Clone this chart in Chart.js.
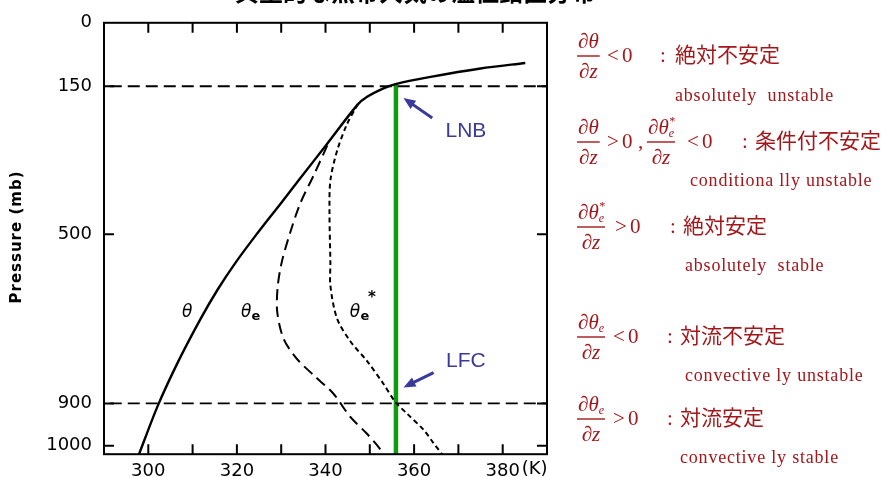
<!DOCTYPE html>
<html>
<head>
<meta charset="utf-8">
<script src="https://cdn.jsdelivr.net/npm/chart.js@4.4.1/dist/chart.umd.min.js"></script>
<style>
html, body { margin: 0; padding: 0; background: #fff; }
</style>
</head>
<body>
<canvas id="chart" width="888" height="477"></canvas>
<script>
// potential temperature profiles (K) against pressure (mb)
const thetaT = [297.9, 302.2, 306.8, 311.8, 315.7, 319.7, 324.3, 329.9, 333.9, 340.3, 347.2, 349.4, 353.1, 355.8, 363.7, 375.0, 385.1];
const thetaP = [1020, 904, 800, 700, 630, 567, 502, 427, 373, 287, 194, 175, 155, 145, 128, 108, 95];

const thetaeT = [340.4, 337.5, 334.3, 332.0, 330.1, 329.2, 329.1, 330.5, 333.4, 337.5, 341.8, 345.6, 349.2, 351.9, 353.1];
const thetaeP = [290, 357, 427, 497, 567, 625, 683, 746, 793, 835, 877, 932, 970, 1002, 1020];

const thetaesT = [347.3, 344.8, 342.6, 341.1, 340.9, 341.1, 341.1, 342.6, 345.6, 349.4, 353.1, 355.8, 358.4, 362.2, 364.4, 366.3];
const thetaesP = [192, 241, 303, 373, 450, 567, 621, 699, 753, 800, 854, 897, 924, 963, 994, 1020];

// lifted parcel between LFC and LNB
const parcelT = [355.9, 355.9];
const parcelP = [145, 1020];

// LNB and LFC levels
const levelP = [150, 900];
const levelT = [291.3, 390];

const yTicks = [0, 150, 500, 900, 1000];
const xLabels = [300, 320, 340, 360, 380];
const xMarks = [300, 310, 320, 330, 340, 350, 360, 370, 380];
const yMarks = [150, 500, 900, 1000];

const pts = (xs, ys) => xs.map((x, i) => ({ x: x, y: ys[i] }));

const RED = "#a3171b";
const BLUE = "#3a3a9c";
const MF = 'italic 21px "Liberation Serif"';
const MS = 'italic 12px "Liberation Serif"';
const MR = '21px "Liberation Serif"';
const CJK = '21px "Noto Sans CJK JP"';
const EN = '18px "Liberation Serif"';

const NUM_T = [{ t: "\u2202\u03b8", f: MF }];
const NUM_TE = [{ t: "\u2202\u03b8", f: MF }, { t: "e", f: MS, dy: 3 }];
const NUM_TES = [{ t: "\u2202\u03b8", f: MF }, { t: "*", f: MS, dy: -9, stay: true }, { t: "e", f: MS, dy: 3 }];
const DEN = [{ t: "\u2202z", f: MF }];

function partsWidth(ctx, parts) {
    let w = 0;
    parts.forEach(p => { ctx.font = p.f; if (!p.stay) w += ctx.measureText(p.t).width; });
    return w;
}

function drawParts(ctx, parts, x, y) {
    parts.forEach(p => {
        ctx.font = p.f;
        ctx.fillText(p.t, x, y + (p.dy || 0));
        if (!p.stay) x += ctx.measureText(p.t).width;
    });
}

function frac(ctx, x, bar, num, den) {
    const wn = partsWidth(ctx, num), wd = partsWidth(ctx, den);
    const w = Math.max(wn, wd) + 2;
    ctx.fillRect(x, bar - 0.7, w, 1.4);
    drawParts(ctx, num, x + (w - wn) / 2, bar - 8);
    drawParts(ctx, den, x + (w - wd) / 2, bar + 22);
    return w;
}

function rel(ctx, sym, x, bar) {
    ctx.font = MR;
    ctx.fillText(sym[0], x, bar + 6);
    ctx.fillText(sym.slice(1), x + 15, bar + 6);
}

function arrow(ctx, x1, y1, x2, y2) {
    const a = Math.atan2(y2 - y1, x2 - x1);
    ctx.beginPath();
    ctx.moveTo(x1, y1);
    ctx.lineTo(x2 - 8 * Math.cos(a), y2 - 8 * Math.sin(a));
    ctx.stroke();
    ctx.beginPath();
    ctx.moveTo(x2, y2);
    ctx.lineTo(x2 - 12 * Math.cos(a) + 5 * Math.sin(a), y2 - 12 * Math.sin(a) - 5 * Math.cos(a));
    ctx.lineTo(x2 - 12 * Math.cos(a) - 5 * Math.sin(a), y2 - 12 * Math.sin(a) + 5 * Math.cos(a));
    ctx.closePath();
    ctx.fill();
}

const decor = {
    id: "decor",
    afterDraw(chart) {
        const ctx = chart.ctx, a = chart.chartArea;
        const xs = chart.scales.x, ys = chart.scales.y;
        const X = v => xs.getPixelForValue(v), Y = v => ys.getPixelForValue(v);
        ctx.save();

        // frame and inward ticks
        ctx.strokeStyle = "#000";
        ctx.lineWidth = 2;
        ctx.strokeRect(a.left, a.top, a.right - a.left, a.bottom - a.top);
        ctx.beginPath();
        xMarks.forEach(v => {
            ctx.moveTo(X(v), a.bottom); ctx.lineTo(X(v), a.bottom - 10);
            ctx.moveTo(X(v), a.top); ctx.lineTo(X(v), a.top + 10);
        });
        yMarks.forEach(v => {
            ctx.moveTo(a.left, Y(v)); ctx.lineTo(a.left + 10, Y(v));
            ctx.moveTo(a.right, Y(v)); ctx.lineTo(a.right - 10, Y(v));
        });
        ctx.stroke();

        ctx.fillStyle = "#000";
        ctx.font = '18px "DejaVu Sans"';
        ctx.textBaseline = "middle";
        ctx.fillText("(K)", X(380) + 19, a.bottom + 15);

        // heading, cut at the top edge
        ctx.font = 'bold 24px "Noto Sans CJK JP"';
        ctx.textBaseline = "ideographic";
        ctx.fillText("典型的な熱帯大気の温位鉛直分布", 235, 4);

        // axis title
        ctx.save();
        ctx.translate(17, 237);
        ctx.rotate(-Math.PI / 2);
        ctx.font = 'bold 15px "DejaVu Sans"';
        ctx.letterSpacing = "1px";
        ctx.textAlign = "center";
        ctx.textBaseline = "middle";
        ctx.fillText("Pressure (mb)", 0, 0);
        ctx.restore();

        // curve names
        ctx.textBaseline = "alphabetic";
        ctx.font = 'oblique 17px "DejaVu Sans"';
        ctx.fillText("\u03b8", X(307.6), Y(695));
        ctx.fillText("\u03b8", X(320.9), Y(695));
        ctx.fillText("\u03b8", X(345.5), Y(695));
        ctx.font = 'bold 13px "DejaVu Sans"';
        ctx.fillText("e", X(323.3), Y(703));
        ctx.fillText("e", X(347.9), Y(703));
        ctx.font = 'bold 15px "DejaVu Sans"';
        ctx.fillText("*", X(349.6), Y(660));

        // LNB / LFC pointers
        ctx.strokeStyle = BLUE;
        ctx.fillStyle = BLUE;
        ctx.lineWidth = 3;
        arrow(ctx, X(364.1), Y(225), X(357.6), Y(178));
        arrow(ctx, X(364.4), Y(827), X(357.6), Y(862));
        ctx.font = '21px "Liberation Sans"';
        ctx.textAlign = "center";
        ctx.textBaseline = "middle";
        ctx.fillText("LNB", X(371.7), Y(256));
        ctx.fillText("LFC", X(371.7), Y(801));

        // stability criteria
        ctx.fillStyle = RED;
        ctx.textAlign = "left";
        ctx.textBaseline = "alphabetic";
        ctx.letterSpacing = "0px";

        frac(ctx, 577, 56, NUM_T, DEN);
        rel(ctx, "<0", 607, 56);
        ctx.font = MR; ctx.fillText(":", 660, 62);
        ctx.font = CJK; ctx.fillText("絶対不安定", 675, 62);

        frac(ctx, 577, 142, NUM_T, DEN);
        rel(ctx, ">0", 607, 142);
        ctx.font = MR; ctx.fillText(",", 638, 148);
        frac(ctx, 647, 142, NUM_TES, DEN);
        rel(ctx, "<0", 687, 142);
        ctx.font = MR; ctx.fillText(":", 742, 148);
        ctx.font = CJK; ctx.fillText("条件付不安定", 755, 148);

        frac(ctx, 577, 227, NUM_TES, DEN);
        rel(ctx, ">0", 615, 227);
        ctx.font = MR; ctx.fillText(":", 670, 233);
        ctx.font = CJK; ctx.fillText("絶対安定", 683, 233);

        frac(ctx, 577, 337, NUM_TE, DEN);
        rel(ctx, "<0", 613, 337);
        ctx.font = MR; ctx.fillText(":", 667, 343);
        ctx.font = CJK; ctx.fillText("対流不安定", 680, 343);

        frac(ctx, 577, 419, NUM_TE, DEN);
        rel(ctx, ">0", 613, 419);
        ctx.font = MR; ctx.fillText(":", 667, 425);
        ctx.font = CJK; ctx.fillText("対流安定", 680, 425);

        ctx.font = EN;
        ctx.letterSpacing = "0.8px";
        ctx.fillText("absolutely  unstable", 675, 101);
        ctx.fillText("conditiona lly unstable", 690, 186);
        ctx.fillText("absolutely  stable", 685, 271);
        ctx.fillText("convective ly unstable", 685, 381);
        ctx.fillText("convective ly stable", 680, 463);

        ctx.restore();
    }
};

const line = (data, width, dash, color, tension) => ({
    data: data, showLine: true, pointRadius: 0, borderColor: color || "#000",
    borderWidth: width, borderDash: dash, tension: tension, fill: false
});

new Chart(document.getElementById("chart"), {
    type: "scatter",
    data: {
        datasets: [
            line(pts(levelT, [levelP[0], levelP[0]]), 1.8, [12, 6], "#000", 0),
            line(pts(levelT, [levelP[1], levelP[1]]), 1.8, [12, 6], "#000", 0),
            line(pts(thetaT, thetaP), 2.4, [], "#000", 0.3),
            line(pts(thetaeT, thetaeP), 2, [11, 6], "#000", 0.3),
            line(pts(thetaesT, thetaesP), 2, [5, 3.5], "#000", 0.3),
            line(pts(parcelT, parcelP), 4.5, [], "#0f9b0f", 0)
        ]
    },
    options: {
        responsive: false,
        animation: false,
        devicePixelRatio: 1,
        layout: { padding: { left: 0, right: 341, top: 17, bottom: 0 } },
        plugins: { legend: { display: false }, tooltip: { enabled: false } },
        scales: {
            x: {
                type: "linear", min: 290, max: 390,
                grid: { display: false, drawTicks: false },
                border: { display: false },
                afterFit: s => { s.height = 22; },
                afterBuildTicks: s => { s.ticks = xLabels.map(v => ({ value: v })); },
                ticks: { color: "#000", font: { family: "DejaVu Sans", size: 18 }, padding: 6, maxRotation: 0, autoSkip: false, callback: v => String(v) }
            },
            y: {
                type: "linear", min: 0, max: 1020, reverse: true,
                grid: { display: false, drawTicks: false },
                border: { display: false },
                afterFit: s => { s.width = 104; },
                afterBuildTicks: s => { s.ticks = yTicks.map(v => ({ value: v })); },
                ticks: { color: "#000", font: { family: "DejaVu Sans", size: 18 }, padding: 12, autoSkip: false, callback: v => String(v) }
            }
        }
    },
    plugins: [decor]
});
</script>
</body>
</html>
